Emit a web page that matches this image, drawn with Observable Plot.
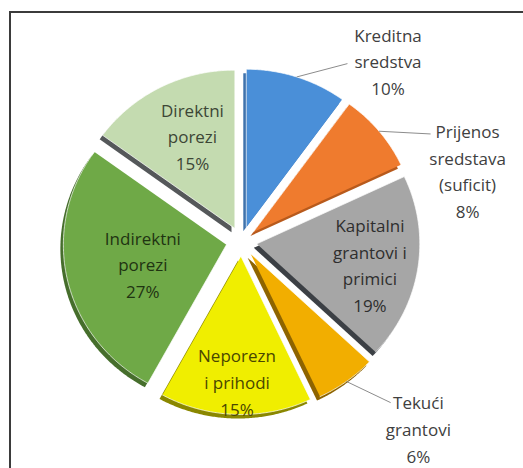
<!DOCTYPE html>
<html><head><meta charset="utf-8">
<script src="https://cdn.jsdelivr.net/npm/d3@7"></script>
<script src="https://cdn.jsdelivr.net/npm/@observablehq/plot@0.6"></script>
<style>
html,body{margin:0;padding:0;background:#fff;width:523px;height:468px;overflow:hidden}
#wrap{position:relative;width:523px;height:468px}
#wrap svg{position:absolute;left:0;top:0}
#frame{position:absolute;left:9px;top:11px;width:600px;height:600px;border-left:2px solid #3b3b3b;border-top:2px solid #3b3b3b;pointer-events:none}
</style></head><body><div id="wrap"><div id="frame"></div></div>
<script>
// ---- data ----
const categories = [
  "Kreditna sredstva",
  "Prijenos sredstava (suficit)",
  "Kapitalni grantovi i primici",
  "Tekući grantovi",
  "Neporezni prihodi",
  "Indirektni porezi",
  "Direktni porezi"
];
const values = [10, 8, 19, 6, 15, 27, 15];
const labelLines = [
  ["Kreditna", "sredstva"],
  ["Prijenos", "sredstava", "(suficit)"],
  ["Kapitalni", "grantovi i", "primici"],
  ["Tekući", "grantovi"],
  ["Neporezn", "i prihodi"],
  ["Indirektni", "porezi"],
  ["Direktni", "porezi"]
];

// ---- styles / layout ----
const colors = ["#4a8fd8", "#ef7b2e", "#a6a6a6", "#f2ae00", "#f0ee00", "#6fa947", "#c4dbb0"];
const shadowColors = ["#3f73ad", "#b85a1c", "#3c4045", "#8e6400", "#8a8700", "#466e2c", "#55585a"];
const placement = {
  "Kreditna sredstva":            {r: 1.46, da: 20,   leader: {r: 1.30, da: 12},  fill: "#404040"},
  "Prijenos sredstava (suficit)": {r: 1.46, da: 21.4, leader: {r: 1.345, da: 9.2}, fill: "#404040"},
  "Kapitalni grantovi i primici": {r: 0.80, da: 1,    fill: "#2e2e2e"},
  "Tekući grantovi":              {r: 1.60, da: -6.7, leader: {r: 1.37, da: -5.9}, fill: "#404040"},
  "Neporezni prihodi":            {r: 0.88, da: 0,    fill: "#4a4700"},
  "Indirektni porezi":            {r: 0.62, da: 0,    fill: "#1f3412"},
  "Direktni porezi":              {r: 0.74, da: 3,    fill: "#3c4636"}
};
const W = 523, H = 468, CX = 241, CY = 241, RX = 163, RY = 158, EXPLODE = 0.095;
const rad = Math.PI / 180;

const arcs = d3.pie().sort(null).value(d => d)(values);
const pts = [];
const labels = [];
const leaders = [];
arcs.forEach((a, i) => {
  const cat = categories[i];
  const mid = (a.startAngle + a.endAngle) / 2;
  const ox = EXPLODE * Math.sin(mid), oy = EXPLODE * Math.cos(mid);
  pts.push({cat, x: ox, y: oy, fill: colors[i], shadow: shadowColors[i]});
  const n = Math.max(2, Math.ceil((a.endAngle - a.startAngle) / (0.5 * rad)));
  for (let k = 0; k <= n; k++) {
    const t = a.startAngle + (a.endAngle - a.startAngle) * k / n;
    pts.push({cat, x: ox + Math.sin(t), y: oy + Math.cos(t), fill: colors[i], shadow: shadowColors[i]});
  }
  const p = placement[cat];
  const la = mid + p.da * rad;
  labels.push({
    text: labelLines[i].join("\n") + "\n" + values[i] + "%",
    x: p.r * Math.sin(la), y: p.r * Math.cos(la), fill: p.fill
  });
  if (p.leader) {
    const r0 = 1 + EXPLODE;
    const le = mid + p.leader.da * rad;
    leaders.push({
      x1: r0 * Math.sin(mid), y1: r0 * Math.cos(mid),
      x2: p.leader.r * Math.sin(le), y2: p.leader.r * Math.cos(le)
    });
  }
});

const chart = Plot.plot({
  width: W, height: H, margin: 0,
  x: {domain: [-CX / RX, (W - CX) / RX], axis: null},
  y: {domain: [-(H - CY) / RY, CY / RY], axis: null},
  style: {background: "transparent"},
  marks: [
    Plot.line(pts, {x: "x", y: "y", z: "cat", fill: "shadow", stroke: "none", dx: -3, dy: 4}),
    Plot.line(pts, {x: "x", y: "y", z: "cat", fill: "fill", stroke: "#ffffff", strokeWidth: 1, strokeOpacity: 0.7}),
    Plot.link(leaders, {x1: "x1", y1: "y1", x2: "x2", y2: "y2", stroke: "#8c8c8c", strokeWidth: 1}),
    Plot.text(labels, {x: "x", y: "y", text: "text", fill: "fill", fontSize: 17, lineHeight: 1.57,
      fontFamily: "Open Sans", textAnchor: "middle"})
  ]
});
document.getElementById("wrap").prepend(chart);
</script>
</body></html>
